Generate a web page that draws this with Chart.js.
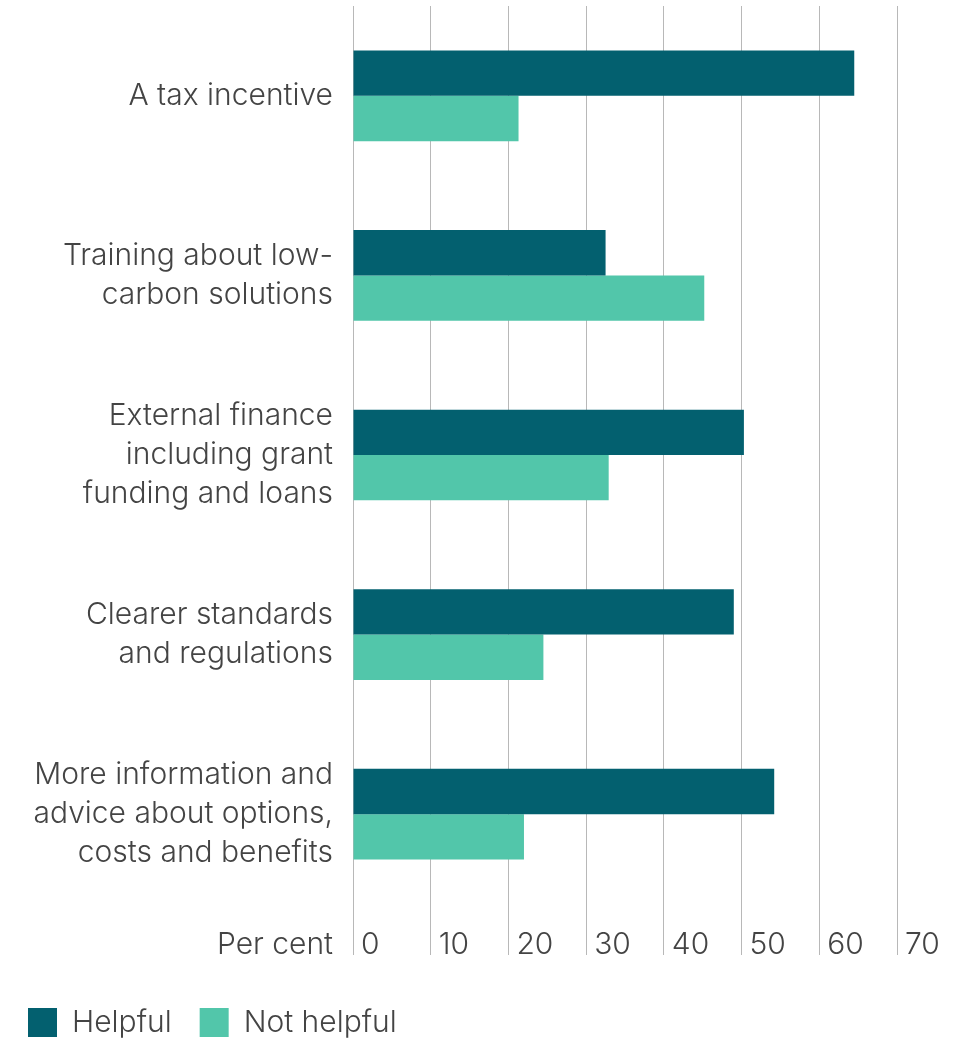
<!DOCTYPE html>
<html lang="en">
<head>
  <meta charset="UTF-8">
  <title>What would help</title>
  <script src="https://cdn.jsdelivr.net/npm/chart.js"></script>
  <style>
    body {
      margin: 0;
      background: #fff;
    }
    #wrap {
      width: 976px;
      height: 1041px;
    }
  </style>
</head>
<body>
  <div id="wrap">
    <canvas id="helpChart"></canvas>
  </div>

  <script>
    const categories = [
      'A tax incentive',
      ['Training about low-', 'carbon solutions'],
      ['External finance', 'including grant', 'funding and loans'],
      ['Clearer standards', 'and regulations'],
      ['More information and', 'advice about options,', 'costs and benefits']
    ];
    const helpful = [64.5, 32.5, 50.3, 49.0, 54.2];
    const notHelpful = [21.3, 45.2, 32.9, 24.5, 22.0];
    const xTicks = [0, 10, 20, 30, 40, 50, 60, 70];
    const axisTitle = 'Per cent';

    const textColor = '#444';
    const baseFont = { family: 'Inter, Lato, sans-serif', size: 30, weight: '300' };

    // x tick labels sit just right of each grid line, below the bars,
    // with the axis name right-aligned under the category labels
    const bottomLabels = {
      id: 'bottomLabels',
      afterDraw(chart) {
        const { ctx } = chart;
        const x = chart.scales.x;
        const y = chart.scales.y;
        const base = 954;
        ctx.save();
        ctx.font = `${baseFont.weight} ${baseFont.size}px ${baseFont.family}`;
        ctx.fillStyle = textColor;
        ctx.textBaseline = 'alphabetic';
        ctx.textAlign = 'left';
        xTicks.forEach(v => {
          ctx.fillText(String(v), x.getPixelForValue(v) + 8, base);
        });
        ctx.textAlign = 'right';
        ctx.fillText(axisTitle, y.right - 20, base);
        ctx.restore();
      }
    };

    new Chart(document.getElementById('helpChart'), {
      type: 'bar',
      data: {
        labels: categories,
        datasets: [
          {
            label: 'Helpful',
            data: helpful,
            backgroundColor: '#03606f',
            borderWidth: 0
          },
          {
            label: 'Not helpful',
            data: notHelpful,
            backgroundColor: '#52c6aa',
            borderWidth: 0
          }
        ]
      },
      options: {
        indexAxis: 'y',
        responsive: true,
        maintainAspectRatio: false,
        animation: false,
        categoryPercentage: 0.505,
        barPercentage: 1,
        layout: {
          padding: { top: 6, left: 0, right: 79, bottom: -6.5 }
        },
        plugins: {
          tooltip: { enabled: false },
          legend: {
            position: 'bottom',
            align: 'start',
            labels: {
              boxWidth: 29,
              boxHeight: 29,
              padding: 28,
              color: textColor,
              font: baseFont
            }
          }
        },
        scales: {
          x: {
            min: 0,
            max: 70,
            ticks: { stepSize: 10, display: false },
            grid: {
              color: '#b8b8b8',
              lineWidth: 1,
              drawTicks: true,
              tickLength: 51
            },
            border: { display: false },
            afterFit: s => { s.height = 75.5; }
          },
          y: {
            grid: { display: false, drawTicks: false },
            border: { display: false },
            ticks: {
              color: textColor,
              padding: 20,
              font: Object.assign({ lineHeight: 1.3 }, baseFont)
            },
            afterFit: s => {
              s.width = 353;
              // labels may overhang the bands; keep the plot flush to the top
              s.paddingTop = 0;
              s.paddingBottom = 0;
            }
          }
        }
      },
      plugins: [bottomLabels]
    });
  </script>
</body>
</html>
